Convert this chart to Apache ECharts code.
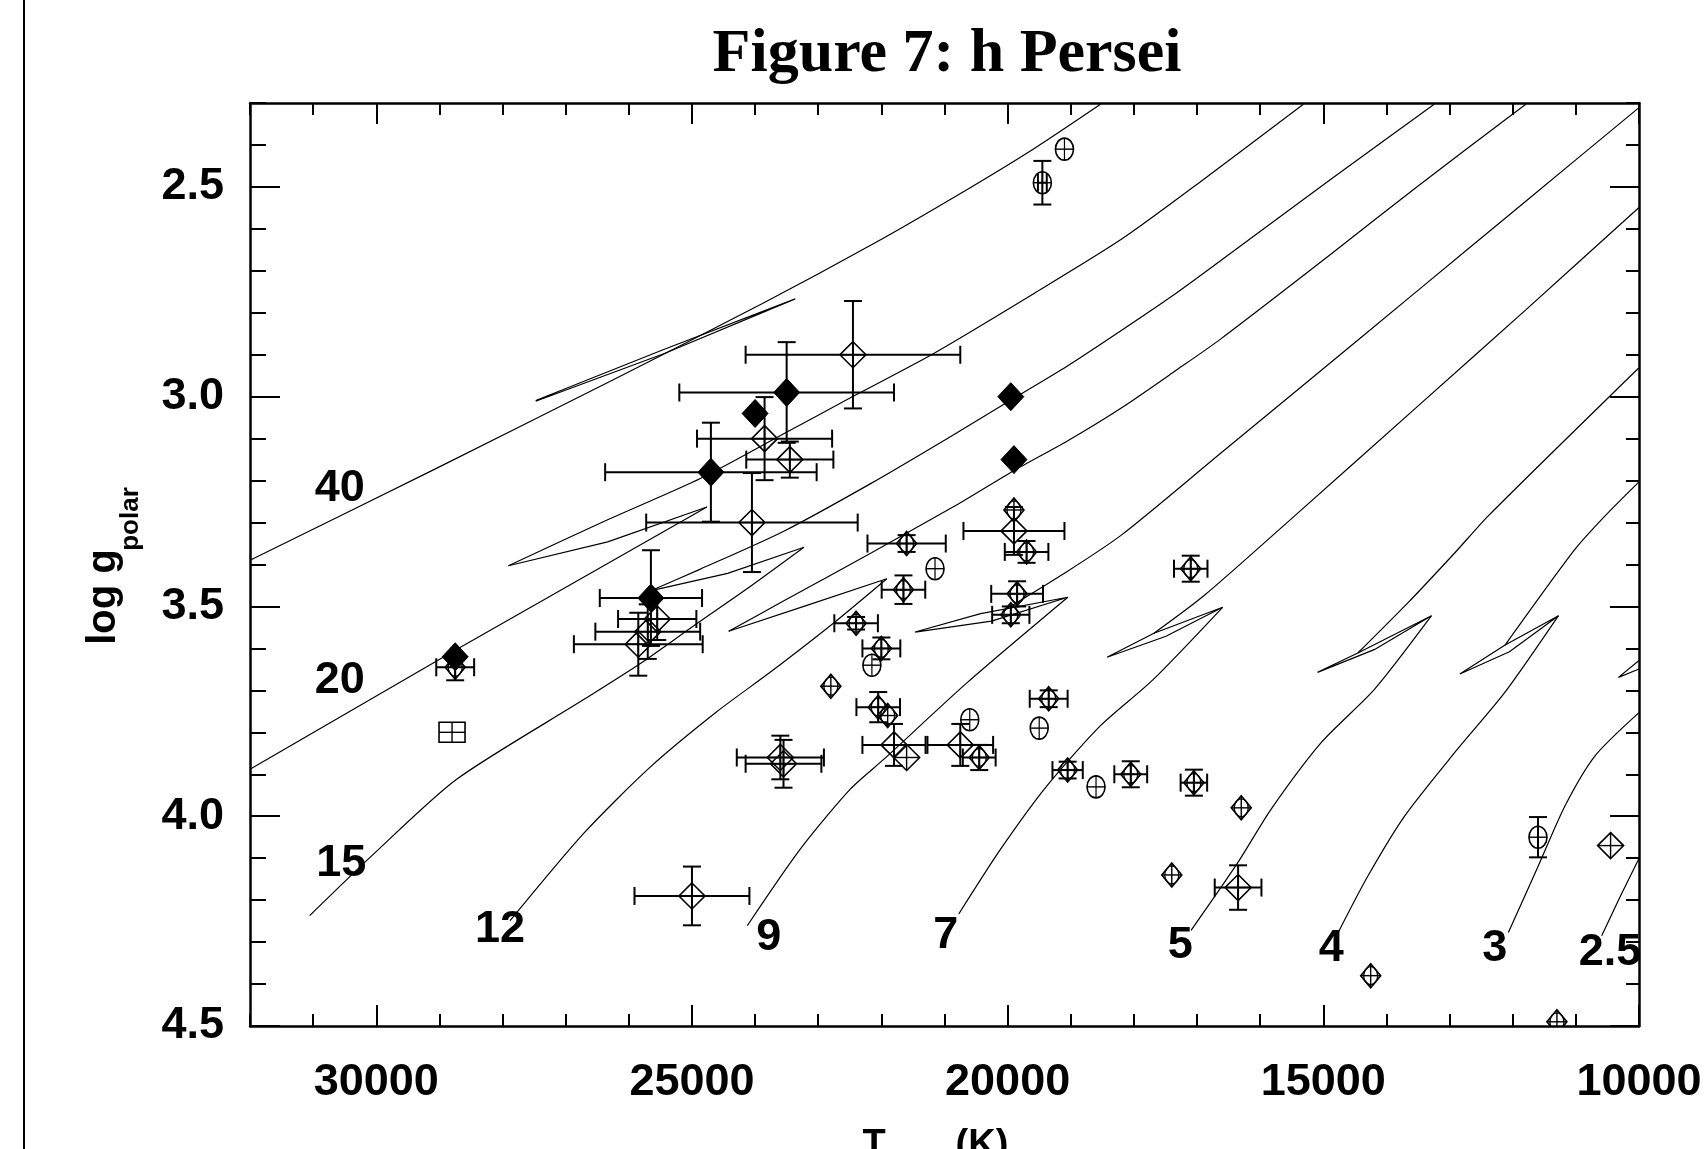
<!DOCTYPE html>
<html><head><meta charset="utf-8">
<script src="https://cdn.jsdelivr.net/npm/echarts@6/dist/echarts.min.js"></script>
<style>html,body{margin:0;padding:0;background:#fff}#c{width:1707px;height:1149px}</style>
</head><body><div id="c"></div>
<script>
// ---------- axis ticks ----------
const xMajorTicks = [10000, 15000, 20000, 25000, 30000];
const yMajorTicks = [2.5, 3.0, 3.5, 4.0, 4.5];

// ---------- evolutionary tracks: segments of [Teff, log g] ----------
const track40 = [
  [[32000,3.390],[29064,3.172],[26301,2.964],[23883,2.778],[22156,2.638],[20774,2.518],[19565,2.407],[18529,2.303]],
  [[27475,3.009],[25437,2.887],[23364,2.767],[25437,2.897],[27475,3.011]]
];
const track20 = [
  [[32000,3.888],[28736,3.603],[24763,3.263]],
  [[24763,3.263],[26335,3.346],[27907,3.403]],
  [[27907,3.403],[26301,3.291],[24867,3.195],[23554,3.089],[22432,2.998],[21171,2.897],[19582,2.754],[18200,2.625],[16940,2.487],[15316,2.303]]
];
const track15 = [
  [[31055,4.237],[30048,4.091],[28727,3.912],[26715,3.722],[25817,3.636],[24971,3.546],[24055,3.450],[23226,3.359]],
  [[23226,3.359],[24435,3.421],[25662,3.463]],
  [[25662,3.463],[24867,3.411],[23537,3.320],[22156,3.206],[20947,3.099],[19928,3.006],[19047,2.926],[18200,2.842],[17320,2.752],[16629,2.676],[14902,2.484],[13244,2.303]]
];
const track12 = [
  [[27881,4.249],[26715,4.041],[25662,3.883],[24608,3.751],[23762,3.657],[22760,3.540],[21914,3.434]],
  [[21914,3.434],[23192,3.498],[24418,3.559]],
  [[24418,3.559],[23537,3.486],[22156,3.372],[20774,3.255],[19910,3.177],[19047,3.105],[18200,3.027],[17320,2.936],[16612,2.861],[14902,2.663],[13520,2.500],[11793,2.303]]
];
const track9 = [
  [[24124,4.261],[23282,4.078],[22489,3.935],[21959,3.864],[20637,3.681],[19047,3.478]],
  [[19047,3.478],[20256,3.535],[21465,3.561],[20428,3.517],[19047,3.478]],
  [[20083,3.512],[19133,3.424],[18200,3.330],[16612,3.133],[15247,2.964],[13520,2.749],[11793,2.534],[10000,2.311]]
];
const track7 = [
  [[20774,4.233],[20109,4.078],[19375,3.927],[18529,3.784],[17700,3.675],[16595,3.502]],
  [[16595,3.502],[17492,3.571],[18425,3.621],[17683,3.564],[16595,3.502]],
  [[17683,3.564],[16888,3.474],[15454,3.284],[13520,3.025],[11793,2.793],[10000,2.549]]
];
const track5 = [
  [[17095,4.272],[16352,4.110],[15826,3.983],[15031,3.824],[14187,3.697],[13287,3.522]],
  [[13287,3.522],[14194,3.603],[15092,3.657],[14453,3.611],[13287,3.522]],
  [[14453,3.611],[13658,3.491],[12916,3.372],[12387,3.284],[10000,2.931]]
];
const track4 = [
  [[14764,4.277],[14292,4.142],[13710,3.999],[12918,3.848],[12125,3.705],[11275,3.522]],
  [[11275,3.522],[12052,3.608],[12838,3.661],[12121,3.592],[11275,3.522]],
  [[12121,3.592],[11016,3.364],[10537,3.284],[10000,3.203]]
];
const track3 = [
  [[12069,4.277],[11594,4.118],[11171,3.975],[10696,3.856],[10000,3.753]],
  [[10000,3.629],[10325,3.669],[10000,3.649]]
];
const track25 = [
  [[10591,4.285],[10290,4.189],[10000,4.101]]
];

// ---------- track mass labels ----------
const curveLabelText = ['40','20','15','12','9','7','5','4','3','2.5'];
const curveLabelPos = [[30579,3.220],[30579,3.677],[30553,4.114],[28040,4.270],[23784,4.289],[20981,4.285],[17264,4.309],[14874,4.316],[12284,4.316],[10458,4.325]];

// ---------- stars: [Teff, log g, err Teff, err log g] ----------
const filledStars = [
  [23500,2.99,1700,0.12],[24000,3.04,0,0],[24700,3.18,1675,0.118],
  [19950,3.00,0,0],[19900,3.15,0,0],[28750,3.62,0,0],[25650,3.48,810,0.114]
];
const openStarsLarge = [
  [22450,2.90,1700,0.128],[23850,3.10,1070,0.099],[23450,3.15,690,0.043],[24050,3.30,1675,0.118],
  [25550,3.53,620,0.05],[25700,3.56,830,0.065],[25850,3.59,1020,0.075],[23600,3.86,690,0.052],
  [23550,3.875,600,0.057],[25000,4.19,910,0.07],[21800,3.83,500,0.05],[21600,3.86,0,0],
  [20750,3.83,520,0.05],[19900,3.32,800,0.057],[16350,4.17,370,0.053],[10450,4.07,0,0]
];
const openStarsSmall = [
  [28750,3.645,300,0.031],[21650,3.46,345,0.034],[22400,3.54,345,0.015],[22000,3.60,300,0.026],
  [22800,3.69,0,0],[22050,3.74,345,0.036],[21900,3.76,0,0],[20450,3.86,260,0.03],
  [19050,3.89,240,0.02],[19700,3.37,345,0.026],[19850,3.47,410,0.03],[19950,3.52,295,0.02],
  [19900,3.27,0,0],[21600,3.35,620,0.02],[17100,3.41,265,0.031],[18050,3.90,260,0.031],
  [17050,3.92,210,0.031],[16300,3.98,0,0],[17400,4.14,0,0],[14250,4.38,0,0],
  [11300,4.49,0,0],[19350,3.72,300,0.02]
];
const roundStars = [
  [19100,2.41,0,0],[19450,2.49,70,0.052],[21150,3.41,0,0],[22150,3.64,0,0],
  [19500,3.79,0,0],[18600,3.93,0,0],[20600,3.77,0,0],[11600,4.05,0,0.048]
];
const squareStars = [[28800,3.80,0,0]];

// ---------- build chart ----------
const FONT = 'Liberation Sans';
const allTracks = [track40, track20, track15, track12, track9, track7, track5, track4, track3, track25];
function isMonotone(seg) {
  for (let i = 1; i < seg.length; i++) if (seg[i][0] >= seg[i - 1][0]) return false;
  return seg.length > 3;
}
const trackSeries = [];
allTracks.forEach(tr => tr.forEach(seg => trackSeries.push({
  type: 'line', data: seg, showSymbol: false, symbol: 'none', clip: true, silent: true,
  smooth: isMonotone(seg) ? 0.25 : false,
  lineStyle: { color: '#000', width: 1.2 }, z: 2, animation: false
})));

function L(x1, y1, x2, y2, w) {
  return { type: 'line', shape: { x1, y1, x2, y2 }, style: { stroke: '#000', lineWidth: w || 2, fill: 'none' } };
}
function markerSeries(data, kind) {
  return {
    type: 'custom', data, clip: true, z: 10, silent: true, animation: false,
    encode: { x: 0, y: 1 },
    renderItem(params, api) {
      const t = api.value(0), g = api.value(1), et = api.value(2), eg = api.value(3);
      const c = api.coord([t, g]); const x = c[0], y = c[1];
      const kids = [];
      const cap = 9;
      if (et > 0) {
        const xa = api.coord([t - et, g])[0], xb = api.coord([t + et, g])[0];
        kids.push(L(xa, y, xb, y), L(xa, y - cap, xa, y + cap), L(xb, y - cap, xb, y + cap));
      }
      if (eg > 0) {
        const ya = api.coord([t, g - eg])[1], yb = api.coord([t, g + eg])[1];
        kids.push(L(x, ya, x, yb), L(x - cap, ya, x + cap, ya), L(x - cap, yb, x + cap, yb));
      }
      const outline = { stroke: '#000', lineWidth: 1.6, fill: 'none' };
      if (kind === 'filled') {
        kids.push({ type: 'polygon', shape: { points: [[x, y - 14], [x + 13, y], [x, y + 14], [x - 13, y]] }, style: { fill: '#000', stroke: '#000', lineWidth: 1 } });
      } else if (kind === 'large') {
        kids.push({ type: 'polygon', shape: { points: [[x, y - 13], [x + 13, y], [x, y + 13], [x - 13, y]] }, style: outline });
        kids.push(L(x - 13, y, x + 13, y, 1.4), L(x, y - 13, x, y + 13, 1.4));
      } else if (kind === 'small') {
        kids.push({ type: 'polygon', shape: { points: [[x, y - 12], [x + 10, y], [x, y + 12], [x - 10, y]] }, style: outline });
        kids.push({ type: 'ellipse', shape: { cx: x, cy: y, rx: 7, ry: 9 }, style: { stroke: '#000', lineWidth: 1.3, fill: 'none' } });
        kids.push(L(x - 10, y, x + 10, y, 1.4), L(x, y - 12, x, y + 12, 1.4));
      } else if (kind === 'round') {
        kids.push({ type: 'ellipse', shape: { cx: x, cy: y, rx: 9, ry: 11 }, style: outline });
        kids.push(L(x - 9, y, x + 9, y, 1.4), L(x, y - 11, x, y + 11, 1.2));
      } else if (kind === 'square') {
        kids.push({ type: 'rect', shape: { x: x - 13, y: y - 10, width: 26, height: 20 }, style: outline });
        kids.push(L(x - 13, y, x + 13, y, 1.4), L(x, y - 10, x, y + 10, 1.4));
      }
      return { type: 'group', children: kids };
    }
  };
}

const labelSeries = {
  type: 'custom', data: curveLabelPos, clip: false, z: 12, silent: true, animation: false,
  encode: { x: 0, y: 1 },
  renderItem(params, api) {
    const c = api.coord([api.value(0), api.value(1)]);
    return { type: 'text', x: c[0], y: c[1], style: {
      text: curveLabelText[params.dataIndex], fill: '#000',
      font: 'bold 45px "' + FONT + '"', textAlign: 'center', textVerticalAlign: 'middle',
      align: 'center', verticalAlign: 'middle' } };
  }
};

const tickStyle = { color: '#000', width: 2 };
const frameLine = { show: true, onZero: false, lineStyle: { color: '#000', width: 2.5 } };
const noLine = { show: false, onZero: false };
const baseX = { type: 'value', min: 10000, max: 32000, inverse: true, splitLine: { show: false }, silent: true };
const baseY = { type: 'value', min: 2.3, max: 4.5, inverse: true, splitLine: { show: false }, silent: true };

const option = {
  animation: false,
  backgroundColor: '#fff',
  textStyle: { fontFamily: FONT },
  grid: { left: 250, top: 103, width: 1389, height: 923, containLabel: false, outerBoundsMode: 'none' },
  xAxis: [
    Object.assign({}, baseX, { position: 'bottom', axisLine: frameLine,
      axisTick: { show: true, inside: true, length: 21, lineStyle: tickStyle, customValues: xMajorTicks },
      axisLabel: { show: true, customValues: xMajorTicks, margin: 34, color: '#000', fontFamily: FONT, fontWeight: 'bold', fontSize: 45, formatter: v => String(v) } }),
    Object.assign({}, baseX, { position: 'bottom', interval: 1000, axisLine: noLine,
      axisTick: { show: true, inside: true, length: 12, lineStyle: tickStyle }, axisLabel: { show: false } }),
    Object.assign({}, baseX, { position: 'top', axisLine: frameLine,
      axisTick: { show: true, inside: true, length: 21, lineStyle: tickStyle, customValues: xMajorTicks }, axisLabel: { show: false } }),
    Object.assign({}, baseX, { position: 'top', interval: 1000, axisLine: noLine,
      axisTick: { show: true, inside: true, length: 12, lineStyle: tickStyle }, axisLabel: { show: false } })
  ],
  yAxis: [
    Object.assign({}, baseY, { position: 'left', axisLine: frameLine,
      axisTick: { show: true, inside: true, length: 30, lineStyle: tickStyle, customValues: yMajorTicks },
      axisLabel: { show: true, customValues: yMajorTicks, margin: 26, color: '#000', fontFamily: FONT, fontWeight: 'bold', fontSize: 45, formatter: v => Number(v).toFixed(1) } }),
    Object.assign({}, baseY, { position: 'left', interval: 0.1, axisLine: noLine,
      axisTick: { show: true, inside: true, length: 16, lineStyle: tickStyle }, axisLabel: { show: false } }),
    Object.assign({}, baseY, { position: 'right', axisLine: frameLine,
      axisTick: { show: true, inside: true, length: 29, lineStyle: tickStyle, customValues: yMajorTicks }, axisLabel: { show: false } }),
    Object.assign({}, baseY, { position: 'right', interval: 0.1, axisLine: noLine,
      axisTick: { show: true, inside: true, length: 13, lineStyle: tickStyle }, axisLabel: { show: false } })
  ],
  graphic: [
    { type: 'line', silent: true, shape: { x1: 24, y1: 0, x2: 24, y2: 1149 }, style: { stroke: '#000', lineWidth: 2 } },
    { type: 'text', silent: true, x: 947, y: 55, style: { text: 'Figure 7: h Persei', font: 'bold 62px "Liberation Serif"', fill: '#000', textAlign: 'center', textVerticalAlign: 'middle', align: 'center', verticalAlign: 'middle' } },
    { type: 'text', silent: true, x: 104, y: 597, rotation: Math.PI / 2, style: { text: 'log g', font: 'bold 40px "' + FONT + '"', fill: '#000', textAlign: 'center', textVerticalAlign: 'middle', align: 'center', verticalAlign: 'middle' } },
    { type: 'text', silent: true, x: 131, y: 519, rotation: Math.PI / 2, style: { text: 'polar', font: 'bold 26px "' + FONT + '"', fill: '#000', textAlign: 'center', textVerticalAlign: 'middle', align: 'center', verticalAlign: 'middle' } },
    { type: 'text', silent: true, x: 874, y: 1146, style: { text: 'T', font: 'bold 38px "' + FONT + '"', fill: '#000', textAlign: 'center', textVerticalAlign: 'middle', align: 'center', verticalAlign: 'middle' } },
    { type: 'text', silent: true, x: 910, y: 1166, style: { text: 'eff', font: 'bold 26px "' + FONT + '"', fill: '#000', textAlign: 'center', textVerticalAlign: 'middle', align: 'center', verticalAlign: 'middle' } },
    { type: 'text', silent: true, x: 982, y: 1146, style: { text: '(K)', font: 'bold 38px "' + FONT + '"', fill: '#000', textAlign: 'center', textVerticalAlign: 'middle', align: 'center', verticalAlign: 'middle' } }
  ],
  series: trackSeries.concat([
    markerSeries(openStarsLarge, 'large'),
    markerSeries(openStarsSmall, 'small'),
    markerSeries(roundStars, 'round'),
    markerSeries(squareStars, 'square'),
    markerSeries(filledStars, 'filled'),
    labelSeries
  ])
};
const chart = echarts.init(document.getElementById('c'), null, { renderer: 'canvas' });
chart.setOption(option);
</script>
</body></html>
